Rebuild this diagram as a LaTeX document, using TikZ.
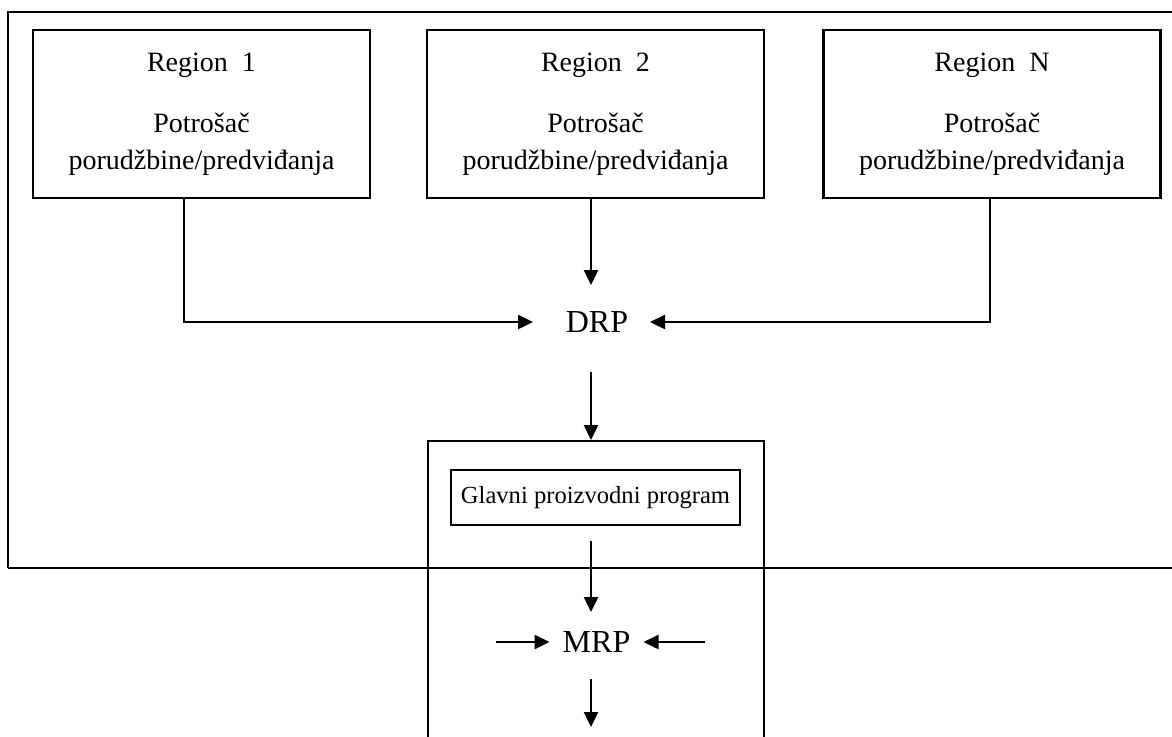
\documentclass[tikz,border=0pt]{standalone}
\usepackage{fontspec}
\setmainfont{Liberation Serif}
\usetikzlibrary{arrows.meta}
\begin{document}
\begin{tikzpicture}[x=0.5pt,y=-0.5pt,
  line width=1.2pt,
  flow/.style={-{Triangle[length=7.5pt,width=7pt]}},
  region/.style={draw,rectangle,minimum width=168.5pt,minimum height=84pt,
    inner sep=0pt,align=center,font=\fontsize{14}{18.5}\selectfont},
  label/.style={inner sep=6pt,font=\fontsize{16}{18}\selectfont},
  plan/.style={draw,rectangle,minimum width=144.5pt,minimum height=27.5pt,
    inner sep=0pt,font=\fontsize{12.3}{14}\selectfont}]
\useasboundingbox (0,0) rectangle (1172,736);

% outer frame of the distribution area
\draw (8,568) -- (8,12) -- (1172,12);
\draw (8,568) -- (1172,568);

% regional demand sources
\node[region] (r1) at (201.5,114) {Region\ \ 1\\[12pt]Potrošač\\porudžbine/predviđanja};
\node[region] (r2) at (595.5,114) {Region\ \ 2\\[12pt]Potrošač\\porudžbine/predviđanja};
\node[region] (rn) at (992,114) {Region\ \ N\\[12pt]Potrošač\\porudžbine/predviđanja};

% planning levels
\node[label] (drp) at (597,322) {DRP};
\draw (428,441) rectangle (764,760);
\node[plan] (mps) at (595.5,497.5) {Glavni proizvodni program};
\node[label] (mrp) at (596.5,642) {MRP};

% connector ends
\coordinate (c1) at (184,322);
\coordinate (cn) at (990,322);
\coordinate (drpl) at (533,322);
\coordinate (drpr) at (650,322);
\coordinate (drpa) at (591,285);
\coordinate (drpb) at (591,372);
\coordinate (mpstop) at (591,440);
\coordinate (mpsb) at (591,541);
\coordinate (mrpa) at (591,612);
\coordinate (mrpl) at (496,642);
\coordinate (mrpr) at (705,642);
\coordinate (mrpb) at (591,679);
\coordinate (mrpe) at (591,727);

% flows into DRP
\draw[flow] (r1.south -| c1) -- (c1) -- (drpl);
\draw[flow] (r2.south -| drpa) -- (drpa);
\draw[flow] (rn.south -| cn) -- (cn) -- (drpr);

% DRP down to the production plan
\draw[flow] (drpb) -- (mpstop);
\draw[flow] (mpsb) -- (mrpa);

% inputs and output of MRP
\draw[flow] (mrpl) -- (mrp.west);
\draw[flow] (mrpr) -- (mrp.east);
\draw[flow] (mrpb) -- (mrpe);
\end{tikzpicture}
\end{document}
